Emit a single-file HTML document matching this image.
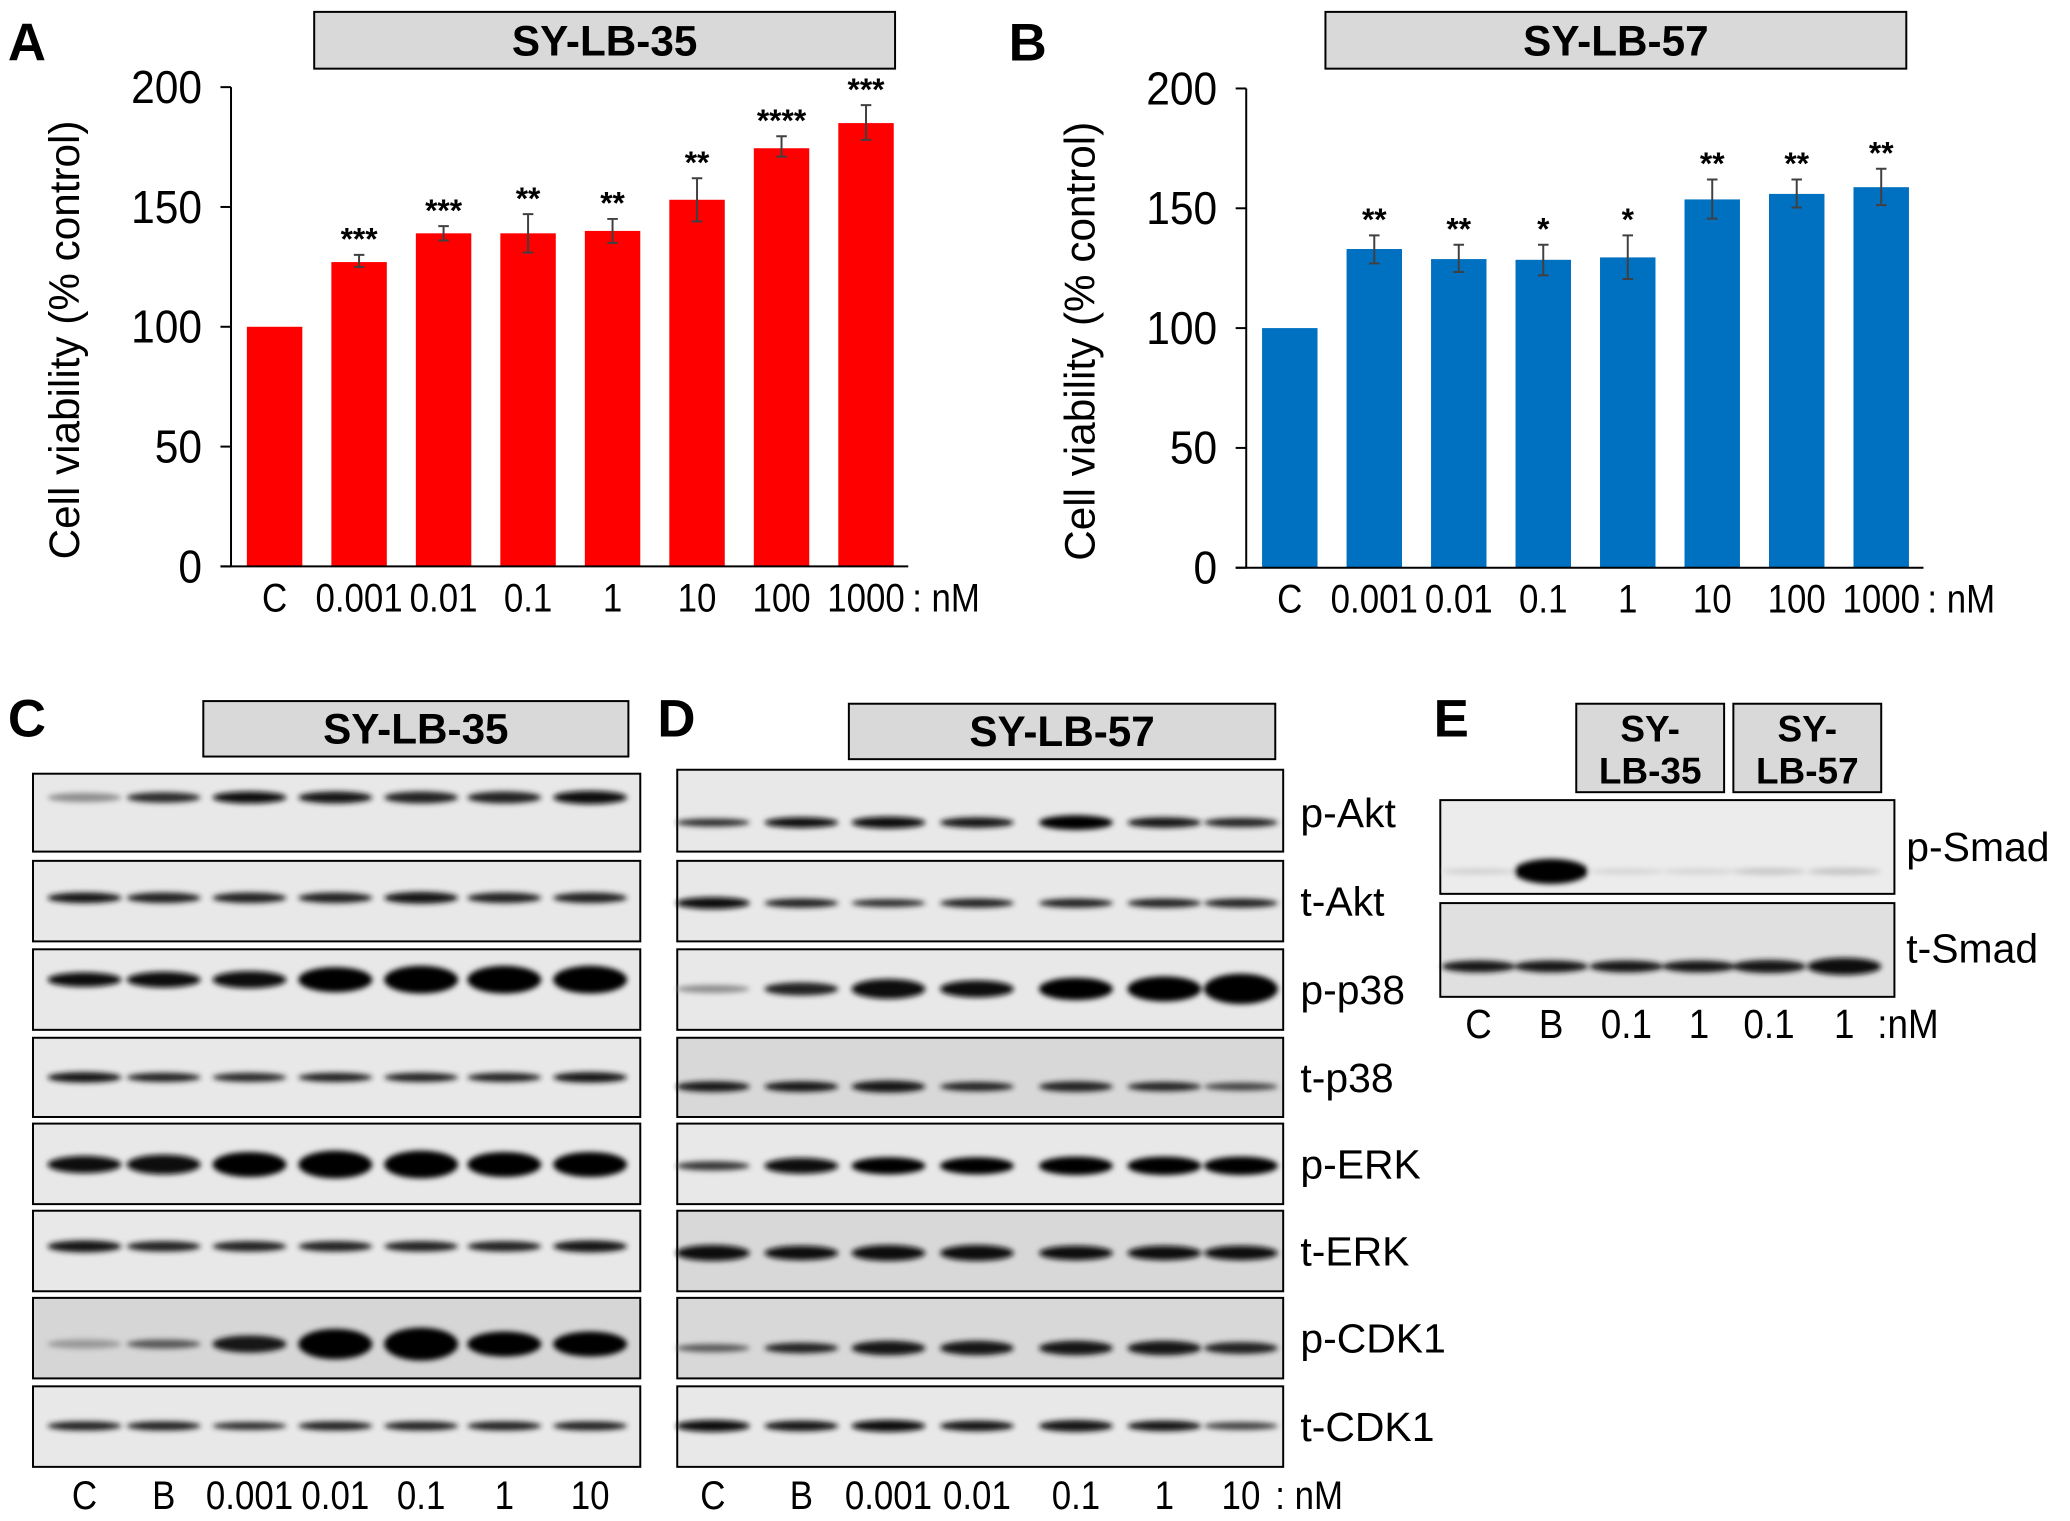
<!DOCTYPE html>
<html><head><meta charset="utf-8"><style>
html,body{margin:0;padding:0;background:#fff;}
svg{display:block;}
text{font-family:"Liberation Sans",sans-serif;}
</style></head><body>
<svg id="fig" width="2070" height="1521" viewBox="0 0 1568 1152" preserveAspectRatio="none" xmlns="http://www.w3.org/2000/svg">
<defs><filter id="bl" x="-20%" y="-100%" width="140%" height="300%"><feGaussianBlur stdDeviation="2"/></filter></defs>
</svg>
<script>
const categories = ["C","0.001","0.01","0.1","1","10","100","1000"];
const valuesA = [100,127,139,139,140,153,174.5,185];
const errHiA = [null,130,142,147,145,162,179.5,192.5];
const errLoA = [null,125,136,131,135,144,171,178];
const starsA = ["","***","***","**","**","**","****","***"];
const valuesB = [100,133,128.8,128.5,129.5,153.7,156,158.8];
const errHiB = [null,138.7,134.8,134.8,138.7,162,162,166.5];
const errLoB = [null,127,123.4,122,120.5,145.7,150.3,151.3];
const starsB = ["","**","**","*","*","**","**","**"];
const yTicks = [0,50,100,150,200];

const NS="http://www.w3.org/2000/svg";
const svg=document.getElementById('fig');
function mk(tag,attrs,parent){const e=document.createElementNS(NS,tag);for(const k in attrs)e.setAttribute(k,attrs[k]);(parent||svg).appendChild(e);return e;}
function txt(s,attrs,parent){const e=mk('text',attrs,parent);e.textContent=s;return e;}
function narrow(e,f){const L=e.getComputedTextLength();if(L>0){e.setAttribute('textLength',(L*(f||0.8)).toFixed(1));e.setAttribute('lengthAdjust','spacingAndGlyphs');}return e;}

function chart(id,x0,yZero,y200,vals,hi,lo,stars,color,title,tx0,tx1){
  const g=mk('g',{});
  
  
  const ys=v=>yZero-(v/200)*(yZero-y200);
  const pitch=64, firstX=x0+12, bw=42;
  const xs=i=>firstX+i*pitch;
  const tb=mk('rect',{x:tx0,y:9,width:tx1-tx0,height:43,fill:'#d9d9d9',stroke:'#000','stroke-width':1.5},g);
  
  
  const tt=txt(title,{x:(tx0+tx1)/2,y:42,'text-anchor':'middle','font-size':32,'font-weight':'bold'},g);
  
  
  vals.forEach((v,i)=>{
    const r=mk('rect',{x:xs(i),y:ys(v),width:bw,height:ys(0)-ys(v),fill:color},g);
    
    
    if(hi[i]!=null){
      const cx=xs(i)+bw/2;
      const e=mk('path',{d:`M${cx},${ys(hi[i])}V${ys(lo[i])}M${cx-4},${ys(hi[i])}H${cx+4}M${cx-4},${ys(lo[i])}H${cx+4}`,stroke:'#404040','stroke-width':1.5,fill:'none'},g);
      
      
      const s=txt(stars[i],{x:cx,y:ys(hi[i])-4,'text-anchor':'middle','font-size':24,'font-weight':'bold'},g);
      
      
    }
    const l=txt(categories[i],{x:xs(i)+bw/2,y:yZero+34,'text-anchor':'middle','font-size':30},g);
    
    
    narrow(l,0.88);
  });
  const u=txt(': nM',{x:xs(7)+bw+14,y:yZero+34,'font-size':30},g);
  
  
  narrow(u,0.88);
  const ax=mk('path',{d:`M${x0},${y200}V${yZero}M${x0-8},${yZero}H${xs(7)+bw+11}`,stroke:'#000','stroke-width':1.5,fill:'none'},g);
  
  
  yTicks.forEach(t=>{
    mk('line',{x1:x0-8,x2:x0,y1:ys(t),y2:ys(t),stroke:'#000','stroke-width':1.5},g);
    const l=txt(String(t),{x:x0-22,y:ys(t)+12,'text-anchor':'end','font-size':35},g);
    
    
    narrow(l,0.92);
  });
  const yt=txt('Cell viability (% control)',{x:0,y:0,'text-anchor':'middle','font-size':32,transform:`translate(${x0-115},${(yZero+y200)/2+10}) rotate(-90)`},g);
  
  
}
chart('chart-a',175,429,66,valuesA,errHiA,errLoA,starsA,'#ff0000','SY-LB-35',238,678);
chart('chart-b',944,430,67,valuesB,errHiB,errLoB,starsB,'#0070c0','SY-LB-57',1004,1444);

function letter(s,x,y){const t=txt(s,{x:x,y:y,'font-size':40,'font-weight':'bold'});}
letter('A',6,46);letter('B',764,46);letter('C',6,558);letter('D',498,558);letter('E',1086,558);

function hbox(s,x0,x1,y0,y1,fs){
  const r=mk('rect',{x:x0,y:y0,width:x1-x0,height:y1-y0,fill:'#d9d9d9',stroke:'#000','stroke-width':1.5});
  
  
  const lines=s.split('|');
  lines.forEach((ln,k)=>{
    const t=txt(ln,{x:(x0+x1)/2,y:y0+(y1-y0)/2+11+(k-(lines.length-1)/2)*32,'text-anchor':'middle','font-size':fs,'font-weight':'bold'});
    
    
  });
}
hbox('SY-LB-35',154,476,531,573,32);
hbox('SY-LB-57',643,966,533,575,32);
hbox('SY-|LB-35',1194,1306,533,600,28);
hbox('SY-|LB-57',1313,1425,533,600,28);

const rowsY=[[586,645],[652,713],[719,780],[786,846],[851,912],[917,978],[983,1044],[1050,1111]];
const rowNames=['p-Akt','t-Akt','p-p38','t-p38','p-ERK','t-ERK','p-CDK1','t-CDK1'];
const lanesC=[64,124,189,254,319,382,447];
const lanesD=[540,607,673,740,815,882,940];
const bandsC=[
 [18,[4,5,6,6,6,6,7],[.35,.8,.95,.9,.85,.85,.95]],
 [28,[5,5,5,5,6,5,5],[.9,.85,.85,.85,.9,.85,.85]],
 [23,[8,9,10,16,18,18,18],[.95,.95,.95,1,1,1,1]],
 [30,[5,4,4,4,4,4,5],[.9,.85,.8,.85,.85,.85,.9]],
 [31,[10,12,16,18,18,16,16],[.95,.95,1,1,1,1,1]],
 [27,[6,5,5,5,5,5,6],[.9,.85,.85,.85,.85,.85,.9]],
 [35,[4,4,10,20,22,16,16],[.3,.6,.9,1,1,1,1]],
 [30,[4,4,3,4,4,4,4],[.85,.85,.8,.85,.85,.85,.85]]];
const bandsD=[
 [40,[3,5,6,5,8,5,4],[.8,.95,.95,.9,1,.9,.85]],
 [32,[6,4,3,4,4,4,4],[.95,.85,.8,.85,.85,.85,.85]],
 [30,[3,7,12,10,14,16,20],[.35,.85,.95,.95,1,1,1]],
 [37,[5,5,6,4,5,4,3],[.9,.9,.9,.85,.85,.85,.7]],
 [32,[4,9,10,10,11,11,11],[.75,.95,1,1,1,1,1]],
 [32,[9,8,9,9,8,8,8],[.95,.95,.95,.95,.95,.95,.95]],
 [38,[3,5,8,8,8,8,6],[.6,.85,.9,.9,.9,.9,.85]],
 [30,[6,5,6,5,6,5,3],[.95,.9,.95,.9,.9,.9,.7]]];
function blot(x0,x1,y0,y1,lanes,spec,bg,name){
  const g=mk('g',{});
  
  
  mk('rect',{x:x0,y:y0,width:x1-x0,height:y1-y0,fill:bg,stroke:'#000','stroke-width':1.5},g);
  const bg2=mk('g',{filter:'url(#bl)'},g);
  lanes.forEach((lx,i)=>{
    const th=spec[1][i],d=spec[2][i];
    const c=Math.round(255*(1-d)*0.85);
    mk('ellipse',{cx:lx,cy:y0+spec[0],rx:28,ry:th/2+1.5,fill:`rgb(${c},${c},${c})`},bg2);
  });
}
rowsY.forEach((r,k)=>{
  blot(25,485,r[0],r[1],lanesC,bandsC[k],k===6?'#d6d6d6':'#e8e8e8','blot-c-'+rowNames[k]);
  blot(513,972,r[0]-(k===0?3:0),r[1],lanesD,bandsD[k],(k===3||k===5||k===6)?'#d8d8d8':'#e8e8e8','blot-d-'+rowNames[k]);
  const t=txt(rowNames[k],{x:985,y:(r[0]+r[1])/2+11,'font-size':31});
  
  
});
const laneLabels=['C','B','0.001','0.01','0.1','1','10'];
laneLabels.forEach((s,i)=>{
  const a=txt(s,{x:lanesC[i],y:1143,'text-anchor':'middle','font-size':30});
  
  
  narrow(a,0.88);
  const b=txt(s,{x:lanesD[i],y:1143,'text-anchor':'middle','font-size':30});
  
  
  narrow(b,0.88);
});
const nmD=txt(': nM',{x:966,y:1143,'font-size':30});


narrow(nmD,0.88);

const lanesE=[1120,1175,1232,1287,1340,1397];
blot(1091,1435,606,677,lanesE,[54,[1,16,1,1,2,2],[.05,1,.03,.03,.08,.1]],'#ececec','blot-e-p-Smad');
blot(1091,1435,684,755,lanesE,[48,[6,6,6,6,7,10],[.9,.9,.9,.9,.9,.95]],'#e0e0e0','blot-e-t-Smad');
[['p-Smad',652],['t-Smad',729]].forEach(p=>{
  const t=txt(p[0],{x:1444,y:p[1],'font-size':31});
  
  
});
['C','B','0.1','1','0.1','1'].forEach((s,i)=>{
  const t=txt(s,{x:lanesE[i],y:786,'text-anchor':'middle','font-size':31});
  
  
  narrow(t,0.9);
});
const nmE=txt(':nM',{x:1422,y:786,'font-size':31});


narrow(nmE,0.9);
</script>
</body></html>
